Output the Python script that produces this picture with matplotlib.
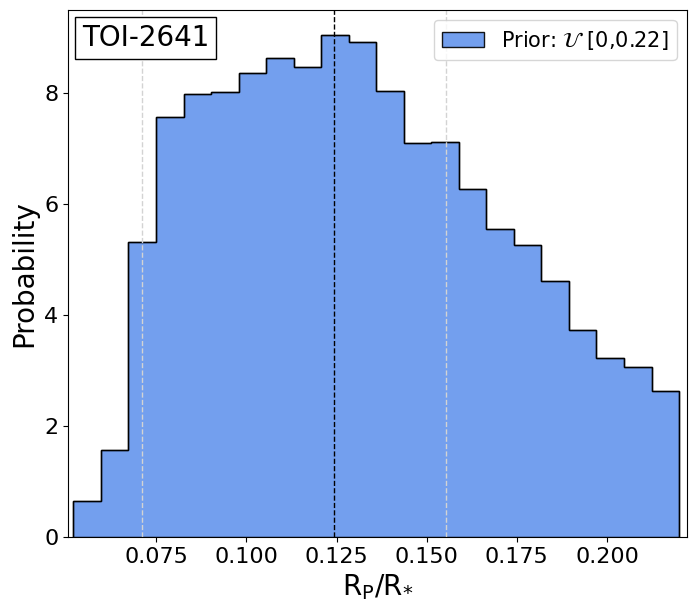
import numpy as np
import matplotlib
matplotlib.use("Agg")
import matplotlib.pyplot as plt
from matplotlib.offsetbox import AnchoredText

# Data
bin_lo = 0.0520
bin_hi = 0.2200
heights = [0.65, 1.56, 5.32, 7.57, 7.99, 8.02, 8.36, 8.63, 8.47, 9.05, 8.92,
           8.04, 7.10, 7.12, 6.28, 5.56, 5.27, 4.62, 3.74, 3.22, 3.06, 2.63]
median = 0.1243
p16 = 0.0710
p84 = 0.1553
label = r"Prior: $\mathcal{U}$ [0,0.22]"
target = "TOI-2641"

edges = np.linspace(bin_lo, bin_hi, len(heights) + 1)
centers = 0.5 * (edges[:-1] + edges[1:])

fig = plt.figure(figsize=(6.97, 6.13), dpi=100)
ax = fig.add_axes([0.0976, 0.124, 0.888, 0.860])

ax.hist(centers, bins=edges, weights=heights, histtype='stepfilled',
        facecolor='cornflowerblue', alpha=0.9, edgecolor='black', linewidth=1.0,
        label=label)
ax.hist(centers, bins=edges, weights=heights, histtype='step',
        edgecolor='black', linewidth=1.0)

ax.axvline(median, color='black', ls='--', lw=1.0)
for p in (p16, p84):
    ax.axvline(p, color='lightgrey', ls='--', lw=1.0)

ax.set_xlim(0.0505, 0.2222)
ax.set_xticks([0.075, 0.100, 0.125, 0.150, 0.175, 0.200])
ax.tick_params(labelsize=16)
ax.set_xlabel(r"R$_{\mathrm{P}}$/R$_{*}$", fontsize=20)
ax.set_ylabel("Probability", fontsize=20)

leg = ax.legend(loc='upper right', fontsize=15)
at = AnchoredText(target, loc='upper left', prop=dict(size=20), frameon=True,
                  pad=0.25, borderpad=0.25)
at.patch.set_boxstyle("square,pad=0.")
ax.add_artist(at)

fig.savefig("out.png", dpi=100)
